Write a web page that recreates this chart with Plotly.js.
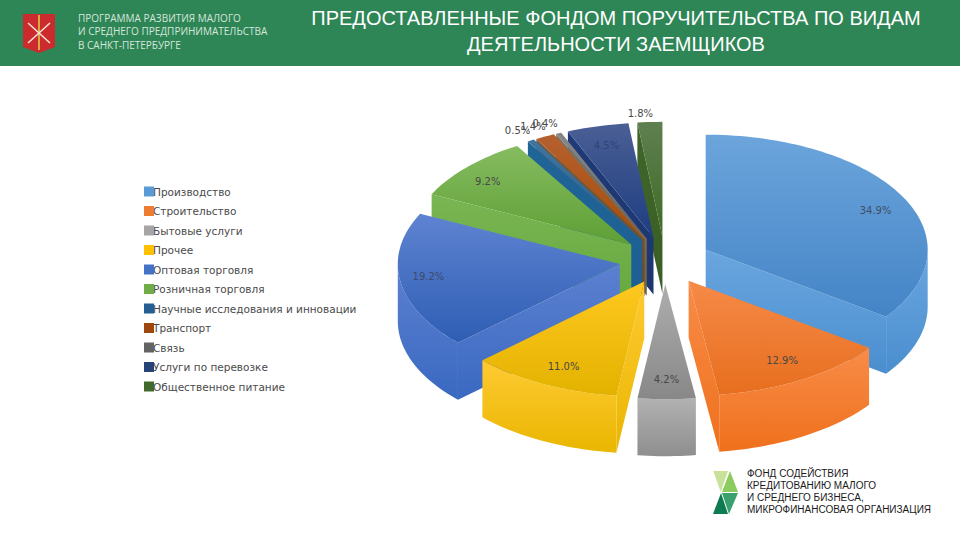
<!DOCTYPE html>
<html>
<head>
<meta charset="utf-8">
<script src="https://cdn.plot.ly/plotly-3.0.1.min.js"></script>
<style>html,body{margin:0;padding:0;background:#fff}#chart{width:960px;height:540px}</style>
</head>
<body>
<div id="chart"></div>
<script>
// ---- data ----
const categories = ['Производство','Строительство','Бытовые услуги','Прочее','Оптовая торговля','Розничная торговля','Научные исследования и инновации','Транспорт','Связь','Услуги по перевозке','Общественное питание'];
const shares = [34.9,12.9,4.2,11.0,19.2,9.2,0.5,1.4,0.4,4.5,1.8];
const legendColors = ['#5B9BD5','#ED7D31','#A5A5A5','#FFC000','#4472C4','#70AD47','#255E91','#9E480E','#636363','#264478','#43682B'];
const topLight = ['#6CA5DC','#F68A48','#AEAEAE','#FFC81F','#5F83D2','#86BC60','#41749F','#B5602F','#868686','#4A5F95','#5F7F50'];
const topDark  = ['#4484C6','#E76E1E','#888888','#E3B200','#2E5EB3','#5E9F35','#1F6296','#A84C08','#6A6A6A','#1E3D80','#3F6B26'];
const wallLight = ['#6AA6DF','#F88C48','#B2B2B2','#FFCA33','#5C80D0','#7AB653','#206498','#7A5A38','#7E7460','#1F3A78','#40652A'];
const wallDark  = ['#4A8ECF','#EF701C','#8E8E8E','#E9B600','#3A69C1','#66A83E','#1D5F92','#6B4A25','#6E6450','#1C3670','#3A5F24'];
const labelColors = ['#3F4F63','#484848','#484848','#484848','#3A4A6A','#484848','#484848','#484848','#484848','#2F4378','#484848'];
const drawOrder = [10,9,8,7,6,5,0,4,3,1,2];
const headerLines = ['ПРОГРАММА РАЗВИТИЯ МАЛОГО','И СРЕДНЕГО ПРЕДПРИНИМАТЕЛЬСТВА','В САНКТ-ПЕТЕРБУРГЕ'];
const fundLines = ['ФОНД СОДЕЙСТВИЯ','КРЕДИТОВАНИЮ МАЛОГО','И СРЕДНЕГО БИЗНЕСА,','МИКРОФИНАНСОВАЯ ОРГАНИЗАЦИЯ'];
const titleText = 'ПРЕДОСТАВЛЕННЫЕ ФОНДОМ ПОРУЧИТЕЛЬСТВА ПО ВИДАМ<br>ДЕЯТЕЛЬНОСТИ ЗАЕМЩИКОВ';

// ---- pie projection ----
const cx = 665, cy = 260.5, rx = 222, ry = 115, depth = 57, explode = 0.206;
const labelNudge = [[4,6],[-3,-2],[0,0],[4,0],[-7,-1],[-6,3],[0,3],[0,3],[-3,4],[0,2],[-8,6]];
const rad = d => d * Math.PI / 180;
const total = shares.reduce((a, b) => a + b, 0);
let acc = 0;
const slices = shares.map(v => { const s = acc / total * 360; acc += v; return {a0: s, a1: acc / total * 360}; });
slices.forEach(s => {
  const m = (s.a0 + s.a1) / 2;
  s.mid = m;
  s.ax = cx + explode * rx * Math.sin(rad(m));
  s.ay = cy - explode * ry * Math.cos(rad(m));
});
const pt = (s, a, r, z) => [s.ax + r * rx * Math.sin(rad(a)), s.ay - r * ry * Math.cos(rad(a)) + (z || 0)];
function arc(s, a0, a1, z) {
  const out = [], n = Math.max(2, Math.ceil((a1 - a0) / 1.5));
  for (let i = 0; i <= n; i++) out.push(pt(s, a0 + (a1 - a0) * i / n, 1, z));
  return out;
}
function poly(points, name, light, dark) {
  const pts = points.concat([points[0]]);
  return {type:'scatter', mode:'none', fill:'toself', x:pts.map(p => p[0]), y:pts.map(p => p[1]), name:name,
    showlegend:false, hoverinfo:'skip', fillgradient:{type:'vertical', colorscale:[[0,dark],[1,light]]}};
}
const traces = [];
drawOrder.forEach(i => {
  const s = slices[i], n = categories[i];
  const edge = (a) => { const e = pt(s, a, 1); return [[s.ax, s.ay], e, [e[0], e[1] + depth], [s.ax, s.ay + depth]]; };
  if (Math.cos(rad(s.a0 - 90)) < 0) traces.push(poly(edge(s.a0), n, wallLight[i], wallDark[i]));
  if (Math.cos(rad(s.a1 + 90)) < 0) traces.push(poly(edge(s.a1), n, wallLight[i], wallDark[i]));
  const lo = Math.max(s.a0, 90), hi = Math.min(s.a1, 270);
  if (hi > lo) traces.push(poly(arc(s, lo, hi, 0).concat(arc(s, lo, hi, depth).reverse()), n, wallLight[i], wallDark[i]));
  traces.push(poly([[s.ax, s.ay]].concat(arc(s, s.a0, s.a1, 0)), n, topLight[i], topDark[i]));
});
// data labels
const lab = slices.map((s, i) => {
  const p = pt(s, s.mid, shares[i] < 2 ? 1.12 : 0.84);
  return [p[0] + labelNudge[i][0], p[1] + labelNudge[i][1]];
});
traces.push({type:'scatter', mode:'text', x:lab.map(p => p[0]), y:lab.map(p => p[1]),
  text:shares.map(v => v.toFixed(1) + '%'), textposition:'middle center',
  textfont:{family:'DejaVu Sans', size:10, color:labelColors}, showlegend:false, hoverinfo:'skip'});
// legend entries
categories.forEach((c, i) => traces.push({type:'scatter', mode:'markers', x:[null], y:[null], name:c, legendgroup:c,
  marker:{symbol:'square', size:10, color:legendColors[i]}, showlegend:true, hoverinfo:'skip'}));

// ---- decorations ----
const band = '#2E8556';
const P = (d, f, l, w) => ({type:'path', path:d, fillcolor:f || 'rgba(0,0,0,0)', line:{color:l || 'rgba(0,0,0,0)', width:w || 0}, xref:'x', yref:'y', layer:'above'});
const shapes = [
  {type:'rect', x0:0, x1:960, y0:0, y1:66, fillcolor:band, line:{width:0}, xref:'x', yref:'y', layer:'below'},
  P('M23,14 L55,14 L55,47 L39,53 L23,47 Z', '#CC2B2E'),
  P('M39,15 L39,50', null, '#D9A843', 2),
  P('M28,23 L50,43', null, '#F2E6D6', 1.5),
  P('M50,23 L28,43', null, '#F2E6D6', 1.5),
  P('M713.3,471 L728,471 L720.7,492 Z', '#C8E29A'),
  P('M730,471 L738,492 L722,492 Z', '#8CCB5E'),
  P('M721,493 L728,514 L713,514 Z', '#0E7C50'),
  P('M722,493 L738,493 L729,514 Z', '#3AA06E')
];
const ann = [];
const headerY = [18, 31, 45];
headerLines.forEach((t, i) => ann.push({x:76, y:headerY[i], xref:'x', yref:'y', xanchor:'left', yanchor:'middle', showarrow:false, text:t,
  font:{family:'Open Sans', size:10, color:'#D5E6DB'}}));
fundLines.forEach((t, i) => ann.push({x:745, y:473 + i * 12, xref:'x', yref:'y', xanchor:'left', yanchor:'middle', showarrow:false, text:t,
  font:{family:'Liberation Sans', size:10, color:'#1A1A1A'}}));

const layout = {
  width:960, height:540, margin:{l:0, r:0, t:0, b:0}, paper_bgcolor:'#fff', plot_bgcolor:'#fff',
  title:{text:titleText, font:{family:'Liberation Sans', size:20, color:'#fff'}, x:616/960, xanchor:'center', y:1-25/540, yanchor:'top'},
  xaxis:{range:[0,960], visible:false, fixedrange:true},
  yaxis:{range:[540,0], visible:false, fixedrange:true},
  showlegend:true,
  legend:{x:129/960, xanchor:'left', y:1-177/540, yanchor:'top', bgcolor:'rgba(0,0,0,0)', borderwidth:0, tracegroupgap:0.5,
    font:{family:'DejaVu Sans', size:10.5, color:'#4A4A4A'}, itemclick:false, itemdoubleclick:false},
  shapes:shapes, annotations:ann
};
Plotly.newPlot('chart', traces, layout, {displayModeBar:false}).then(gd => {
  gd.querySelectorAll('.legendtext').forEach(t => t.setAttribute('x', 24));
});
</script>
</body>
</html>
